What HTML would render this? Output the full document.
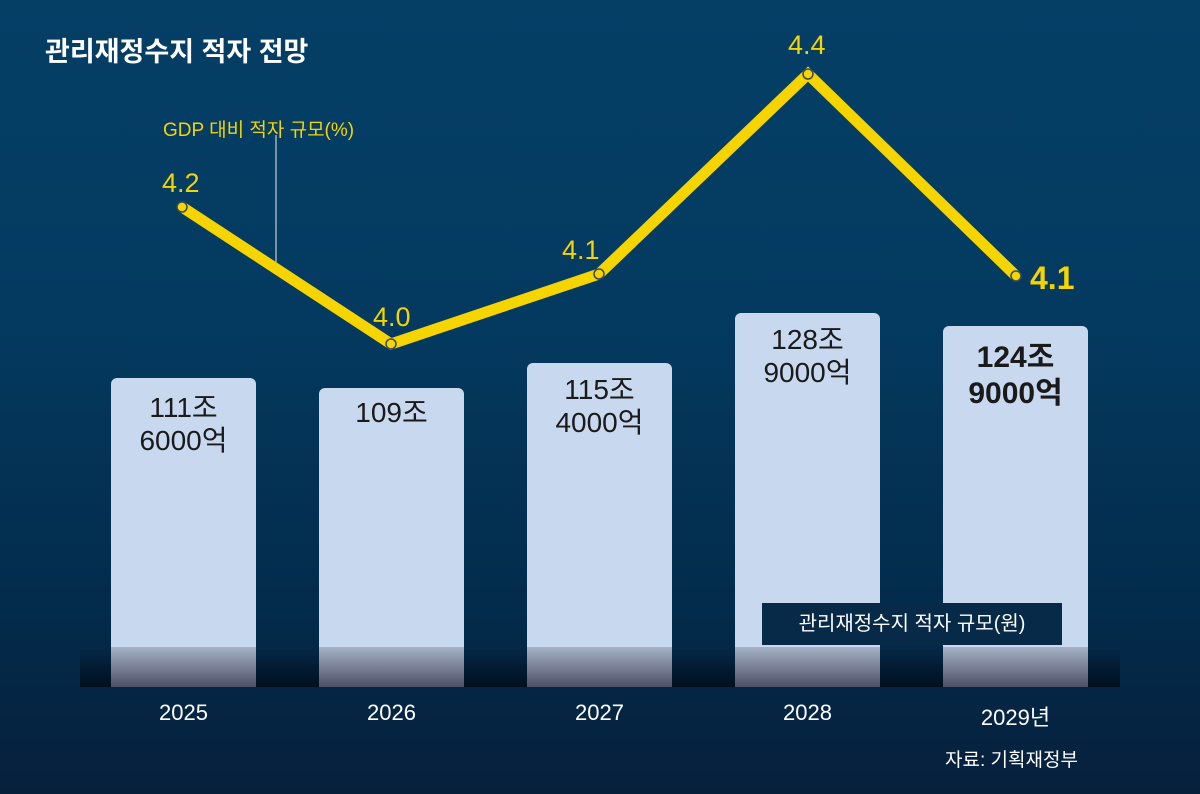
<!DOCTYPE html>
<html><head><meta charset="utf-8"><style>
body{margin:0}
#c{position:relative;width:1200px;height:794px;overflow:hidden;font-family:"Liberation Sans","Noto Sans CJK KR",sans-serif;
background:linear-gradient(180deg,#053f66 0%,#043a60 40%,#032c4c 75%,#06203c 100%);}
.bar{position:absolute;width:145px;background:#c8d8ef;border-radius:6px 6px 0 0;bottom:107px}
.bar .f{position:absolute;left:0;right:0;bottom:0;height:40px;background:linear-gradient(180deg,#a6b2c6,#4d4f66)}
.band{position:absolute;left:80px;width:1040px;top:647px;height:40px;background:linear-gradient(180deg,rgba(0,0,0,0),rgba(0,8,20,.75))}
.lab{position:absolute;width:145px;text-align:center;color:#1a1a1a;font-size:28px;line-height:33px;letter-spacing:0}
.yr{position:absolute;top:700px;width:145px;text-align:center;color:#fff;font-size:22px}
.v{position:absolute;color:#f5d400;font-size:27px}
</style></head><body><div id="c">
<div class="band"></div>
<div class="bar" style="left:111px;top:378px"><div class="f"></div></div>
<div class="bar" style="left:319px;top:388px"><div class="f"></div></div>
<div class="bar" style="left:527px;top:363px"><div class="f"></div></div>
<div class="bar" style="left:735px;top:313px"><div class="f"></div></div>
<div class="bar" style="left:943px;top:326px"><div class="f"></div></div>
<div class="lab" style="left:111px;top:391px">111조<br>6000억</div>
<div class="lab" style="left:319px;top:396px">109조</div>
<div class="lab" style="left:527px;top:373px">115조<br>4000억</div>
<div class="lab" style="left:735px;top:323px">128조<br>9000억</div>
<div class="lab" style="left:943px;top:340px;font-weight:bold;font-size:30px;line-height:36px">124조<br>9000억</div>
<div class="yr" style="left:111px">2025</div>
<div class="yr" style="left:319px">2026</div>
<div class="yr" style="left:527px">2027</div>
<div class="yr" style="left:735px">2028</div>
<div class="yr" style="left:943px">2029년</div>
<div style="position:absolute;left:762px;top:603px;width:300px;height:42px;background:#072a48;color:#fff;font-size:20px;line-height:42px;text-align:center">관리재정수지 적자 규모(원)</div>
<svg style="position:absolute;left:0;top:0" width="1200" height="794">
<line x1="276" y1="135" x2="276" y2="262" stroke="#ccd" stroke-width="1.2"/>
<polyline points="182,207 391,344 599,274 808,74 1016,276" fill="none" stroke="#f5d400" stroke-width="11" stroke-linejoin="miter"/>
<g fill="#f5d400" stroke="#3a4a5a" stroke-width="1.5"><circle cx="182" cy="207" r="5"/><circle cx="391" cy="344" r="5"/><circle cx="599" cy="274" r="5"/><circle cx="808" cy="74" r="5"/><circle cx="1016" cy="276" r="5"/></g>
</svg>
<div class="v" style="left:162px;top:168px">4.2</div>
<div class="v" style="left:373px;top:302px">4.0</div>
<div class="v" style="left:562px;top:235px">4.1</div>
<div class="v" style="left:788px;top:30px">4.4</div>
<div class="v" style="left:1030px;top:260px;font-size:32px;font-weight:bold">4.1</div>
<div style="position:absolute;left:163px;top:115px;color:#f5d400;font-size:19px">GDP 대비 적자 규모(%)</div>
<div style="position:absolute;left:45px;top:30px;color:#fff;font-size:27px;font-weight:bold">관리재정수지 적자 전망</div>
<div style="position:absolute;left:945px;top:745px;color:#fff;font-size:19px">자료: 기획재정부</div>
</div></body></html>
